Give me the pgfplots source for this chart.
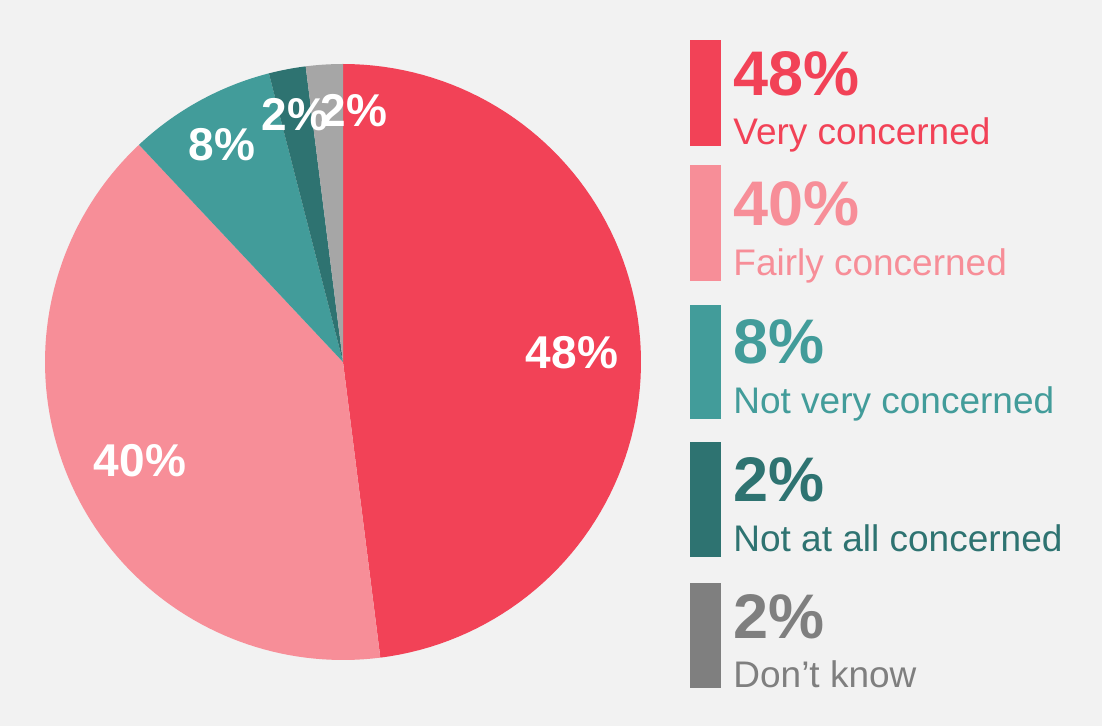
\documentclass[border=0pt]{standalone}
\usepackage{pgfplots}
\pgfplotsset{compat=1.18}
\usepackage{pgfplotstable}
\usepackage{fontspec}
\setmainfont{Liberation Sans}

\definecolor{c0}{HTML}{F24257}
\definecolor{c1}{HTML}{F78E98}
\definecolor{c2}{HTML}{429C9A}
\definecolor{c3}{HTML}{2E7371}
\definecolor{c4}{HTML}{A6A6A6}
\definecolor{k4}{HTML}{7F7F7F}
\definecolor{bg}{HTML}{F2F2F2}

% share of answers, clockwise from 12 o'clock
\pgfplotstableread{
pct
48
40
8
2
2
}\piedata

\begin{document}
\begin{tikzpicture}
\begin{axis}[
    scale only axis, width=551pt, height=363pt,
    xmin=0, xmax=1102, ymin=0, ymax=726, y dir=reverse,
    axis lines=none, ticks=none, clip=false,
    axis background/.style={fill=bg},
    ]
% pie slices
\def\curang{90}
\pgfplotsforeachungrouped \i in {0,...,4}{%
  \pgfplotstablegetelem{\i}{pct}\of\piedata
  \pgfmathsetmacro\aend{\curang}
  \pgfmathsetmacro\astart{\curang-3.6*\pgfplotsretval}
  \edef\temp{\noexpand\addplot[fill=c\i, draw=none, domain=\astart:\aend,
      samples=90, variable=\noexpand\t]
      ({343+298*cos(\noexpand\t)},{362-298*sin(\noexpand\t)})
      -- (axis cs:343,362) -- cycle;}
  \temp
  \global\let\curang\astart
}

% slice labels
\begin{scope}[every node/.style={text=white, font=\bfseries\fontsize{23}{27}\selectfont}]
\node at (axis cs:572,353) {48\%};
\node at (axis cs:140,461) {40\%};
\node at (axis cs:222,145) {8\%};
\node at (axis cs:295,115) {2\%};
\node at (axis cs:354,111) {2\%};
\end{scope}

% legend bars
\addplot[fill=c0, draw=none] coordinates {(690,40) (721,40) (721,146) (690,146)} -- cycle;
\addplot[fill=c1, draw=none] coordinates {(690,165) (721,165) (721,281) (690,281)} -- cycle;
\addplot[fill=c2, draw=none] coordinates {(690,305) (721,305) (721,419) (690,419)} -- cycle;
\addplot[fill=c3, draw=none] coordinates {(690,442) (721,442) (721,557) (690,557)} -- cycle;
\addplot[fill=k4, draw=none] coordinates {(690,583) (721,583) (721,688) (690,688)} -- cycle;

% legend texts
\begin{scope}[every node/.style={anchor=base west, inner sep=0pt}]
\node[text=c0, font=\bfseries\fontsize{31.5}{36}\selectfont] at (axis cs:733,96) {48\%};
\node[text=c0, font=\fontsize{18.5}{22}\selectfont] at (axis cs:733,145) {Very concerned};
\node[text=c1, font=\bfseries\fontsize{31.5}{36}\selectfont] at (axis cs:733,226) {40\%};
\node[text=c1, font=\fontsize{18.5}{22}\selectfont] at (axis cs:733,276) {Fairly concerned};
\node[text=c2, font=\bfseries\fontsize{31.5}{36}\selectfont] at (axis cs:733,364) {8\%};
\node[text=c2, font=\fontsize{18.5}{22}\selectfont] at (axis cs:733,414) {Not very concerned};
\node[text=c3, font=\bfseries\fontsize{31.5}{36}\selectfont] at (axis cs:733,502) {2\%};
\node[text=c3, font=\fontsize{18.5}{22}\selectfont] at (axis cs:733,552) {Not at all concerned};
\node[text=k4, font=\bfseries\fontsize{31.5}{36}\selectfont] at (axis cs:733,638) {2\%};
\node[text=k4, font=\fontsize{18.5}{22}\selectfont] at (axis cs:733,687) {Don’t know};
\end{scope}
\end{axis}
\end{tikzpicture}
\end{document}
